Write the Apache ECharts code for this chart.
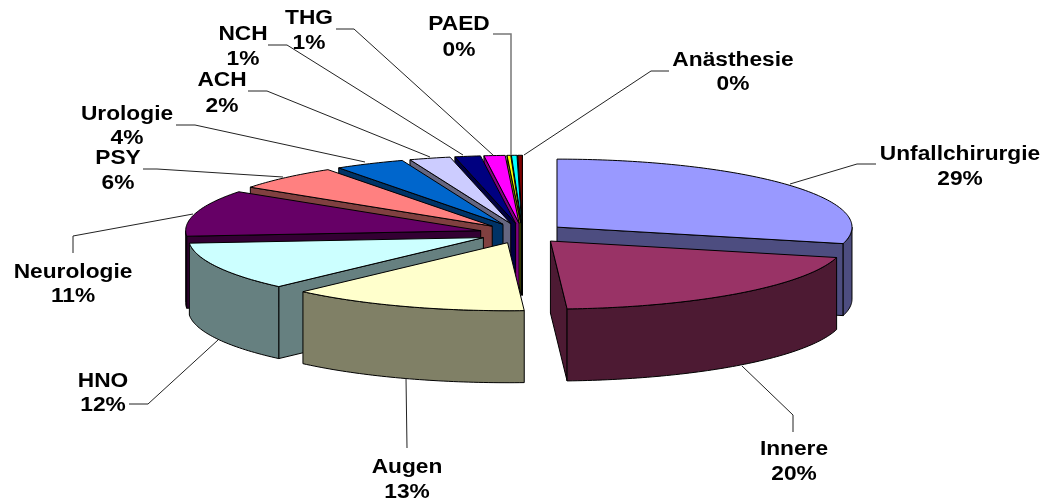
<!DOCTYPE html>
<html>
<head>
<meta charset="utf-8">
<style>html,body{margin:0;padding:0;background:#fff}#c{width:1047px;height:501px}</style>
<script src="https://cdn.jsdelivr.net/npm/echarts@6/dist/echarts.min.js"></script>
</head>
<body>
<div id="c"></div>
<script>
// ---- data ----
const categories = ['Unfallchirurgie','Innere','Augen','HNO','Neurologie','PSY','Urologie','ACH','NCH','THG','','PAED','Anästhesie'];
const values = [28.9,20.2,13.1,11.5,11.0,5.9,3.85,2.25,1.4,1.15,0.2,0.3,0.25];
const percentLabels = ['29%','20%','13%','12%','11%','6%','4%','2%','1%','1%','','0%','0%'];
const topColors = ['#9999FF','#993366','#FFFFCC','#CCFFFF','#660066','#FF8080','#0066CC','#CCCCFF','#000080','#FF00FF','#FFFF00','#00FFFF','#800000'];
const sideColors = ['#4D4D80','#4D1A33','#808066','#668080','#330033','#804040','#003366','#666680','#000040','#800080','#808000','#008080','#400000'];

// ---- layout (not data) ----
const pie = {cx:522.7, cy:233.3, rx:295, ry:68, depth:72, explode:0.1475};
const labelLayout = [
  {x:960,y1:154.5,y2:179.5,line:[[790,184],[857,164],[876,164]]},
  {x:794,y1:449.5,y2:474.5,line:[[742,366],[793,415],[793,432]]},
  {x:407,y1:467.5,y2:492.5,line:[[406,378],[407,448]]},
  {x:103,y1:381.5,y2:405.5,line:[[218,340],[148,404],[129,404]]},
  {x:73,y1:272.5,y2:296.5,line:[[193,214],[73,236],[73,253]]},
  {x:118,y1:158.5,y2:183.5,line:[[283,177],[157,169],[143,169]]},
  {x:127,y1:114.5,y2:138.5,line:[[365,162],[195,125],[176,125]]},
  {x:222,y1:80.5,y2:106.5,line:[[430,157],[267,91],[248,91]]},
  {x:243,y1:34.5,y2:59.5,line:[[463,155],[287,45],[268,45]]},
  {x:309,y1:18.5,y2:43.5,line:[[493,155],[354,29],[336,29]]},
  null,
  {x:459,y1:24.5,y2:50.5,line:[[511,155],[511,34],[493,34]],color:'#777',width:1.5},
  {x:733,y1:60.5,y2:84.5,line:[[524,155],[651,71],[669,71]]}
];

const RAD = Math.PI/180;
const total = values.reduce((a,b)=>a+b,0);
const spans = [];
values.reduce((acc,v)=>{ const e = acc + v/total*360; spans.push([acc,e]); return e; },0);
const mids = spans.map(s=>(s[0]+s[1])/2);
// back-to-front paint rank
const rank = [];
mids.map((m,i)=>[Math.cos(m*RAD),i]).sort((a,b)=>b[0]-a[0]).forEach((p,r)=>{rank[p[1]]=r;});

function onRim(A,deg){ return [A[0]+pie.rx*Math.sin(deg*RAD), A[1]-pie.ry*Math.cos(deg*RAD)]; }
function arcPts(A,a0,a1){ const n=Math.max(2,Math.ceil(Math.abs(a1-a0))); const out=[]; for(let k=0;k<=n;k++){ out.push(onRim(A,a0+(a1-a0)*k/n)); } return out; }
function poly(points,fill,z2){ return {type:'polygon',z2,silent:true,shape:{points},style:{fill,stroke:'#000',lineWidth:1,lineJoin:'round'}}; }
function radial(A,deg,fill,z2){ const P=onRim(A,deg),d=pie.depth; return poly([A,P,[P[0],P[1]+d],[A[0],A[1]+d]],fill,z2); }

function renderItem(params,api){
  const i = params.dataIndex;
  const [a0,a1] = spans[i];
  const mid = mids[i];
  const A = [pie.cx+pie.explode*pie.rx*Math.sin(mid*RAD), pie.cy-pie.explode*pie.ry*Math.cos(mid*RAD)];
  const base = (rank[i]+1)*10;
  const children = [];
  if (Math.sin(a0*RAD) < 0) children.push(radial(A,a0,sideColors[i],base));
  if (Math.sin(a1*RAD) > 0) children.push(radial(A,a1,sideColors[i],base));
  const r0 = Math.max(a0,90), r1 = Math.min(a1,270);
  if (r1 > r0) {
    const up = arcPts(A,r0,r1);
    const low = up.slice().reverse().map(p=>[p[0],p[1]+pie.depth]);
    children.push(poly(up.concat(low),sideColors[i],base+1));
  }
  children.push(poly([A].concat(arcPts(A,a0,a1)),topColors[i],base+2));
  const L = labelLayout[i];
  if (L) {
    children.push({type:'polyline',z2:1000,silent:true,shape:{points:L.line},style:{fill:null,stroke:L.color||'#222',lineWidth:L.width||1}});
    const textStyle = t=>({text:t,fill:'#000',font:'bold 19.6px "Liberation Sans", Arial, sans-serif',align:'center',verticalAlign:'middle'});
    children.push({type:'text',z2:1001,silent:true,x:L.x,y:L.y1,scaleX:1.16,style:textStyle(categories[i])});
    children.push({type:'text',z2:1001,silent:true,x:L.x,y:L.y2,scaleX:1.16,style:textStyle(percentLabels[i])});
  }
  return {type:'group',children};
}

const chart = echarts.init(document.getElementById('c'),null,{renderer:'canvas'});
chart.setOption({
  animation:false,
  backgroundColor:'#fff',
  tooltip:{show:false},
  series:[{
    type:'custom',
    coordinateSystem:'none',
    silent:true,
    renderItem,
    data:categories.map((n,i)=>({name:n,value:[values[i]]}))
  }]
});
</script>
</body>
</html>
